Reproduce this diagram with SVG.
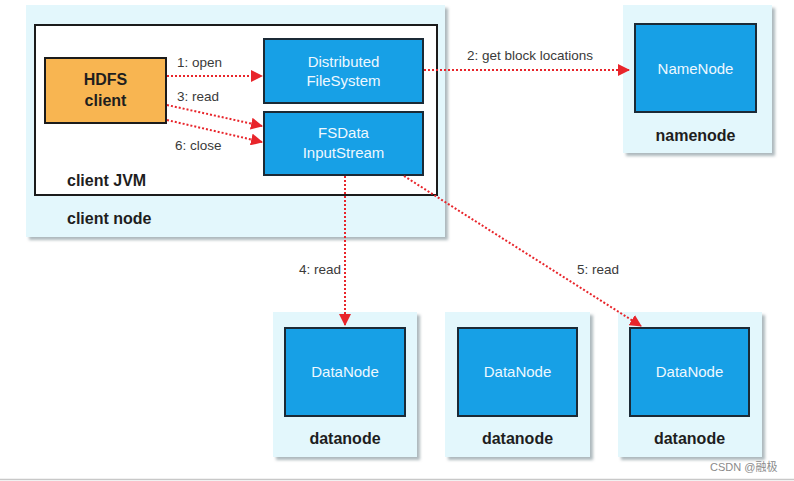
<svg xmlns="http://www.w3.org/2000/svg" width="794" height="481" viewBox="0 0 794 481">
<defs>
<marker id="ah" markerWidth="12" markerHeight="12" refX="11" refY="6" orient="auto" markerUnits="userSpaceOnUse">
<path d="M0,0 L12,6 L0,12 Z" fill="#e8252b"/>
</marker>
<filter id="sh" x="-5%" y="-5%" width="115%" height="115%">
<feDropShadow dx="3" dy="3" stdDeviation="1.5" flood-color="#8a9aa0" flood-opacity="0.7"/>
</filter>
</defs>
<style>
.host{fill:#e3f7fc;filter:url(#sh);}
.blue{fill:#17a0e6;stroke:#1b2a36;stroke-width:2;}
.wt{font-family:"Liberation Sans",Arial,sans-serif;font-size:15px;fill:#eef8ff;text-anchor:middle;}
.bl{font-family:"Liberation Sans",Arial,sans-serif;font-size:16px;font-weight:bold;fill:#1e1e1e;}
.lab{font-family:"Liberation Sans",Arial,sans-serif;font-size:13.5px;fill:#3a3a3a;}
.conn{stroke:#e8252b;stroke-width:2;stroke-dasharray:2,2;fill:none;marker-end:url(#ah);}
</style>
<rect width="794" height="481" fill="#ffffff"/>
<line x1="0" y1="479.5" x2="794" y2="479.5" stroke="#c8c8c8" stroke-width="1.5"/>

<g id="client-node">
<rect class="host" x="26" y="5" width="419" height="232"/>
<rect x="35" y="25" width="402" height="170" fill="#ffffff" stroke="#1b1b1b" stroke-width="2"/>
<text class="bl" x="67" y="186" font-size="15">client JVM</text>
<text class="bl" x="67" y="224" font-size="15">client node</text>
</g>
<g id="hdfs-client">
<rect x="45" y="58" width="121" height="65" fill="#f8b551" stroke="#1b1b1b" stroke-width="2"/>
<text class="bl" x="105.5" y="85" text-anchor="middle" font-size="15">HDFS</text>
<text class="bl" x="105.5" y="106" text-anchor="middle" font-size="15">client</text>
</g>
<g id="dfs">
<rect class="blue" x="264" y="39" width="159" height="64"/>
<text class="wt" x="343.5" y="67">Distributed</text>
<text class="wt" x="343.5" y="86">FileSystem</text>
</g>
<g id="fsdis">
<rect class="blue" x="264" y="112" width="159" height="63"/>
<text class="wt" x="343.5" y="138">FSData</text>
<text class="wt" x="343.5" y="158">InputStream</text>
</g>
<g id="namenode">
<rect class="host" x="623" y="5" width="149" height="148"/>
<rect class="blue" x="635" y="24" width="121" height="88"/>
<text class="wt" x="695.5" y="74">NameNode</text>
<text class="bl" x="695.5" y="141" text-anchor="middle">namenode</text>
</g>
<g id="datanode1">
<rect class="host" x="273" y="312" width="144" height="145"/>
<rect class="blue" x="285" y="328" width="120" height="88"/>
<text class="wt" x="345" y="377">DataNode</text>
<text class="bl" x="345" y="444" text-anchor="middle">datanode</text>
</g>
<g id="datanode2">
<rect class="host" x="445" y="312" width="145" height="145"/>
<rect class="blue" x="458" y="328" width="119" height="88"/>
<text class="wt" x="517.5" y="377">DataNode</text>
<text class="bl" x="517.5" y="444" text-anchor="middle">datanode</text>
</g>
<g id="datanode3">
<rect class="host" x="618" y="312" width="144" height="145"/>
<rect class="blue" x="630" y="328" width="119" height="88"/>
<text class="wt" x="689.5" y="377">DataNode</text>
<text class="bl" x="689.5" y="444" text-anchor="middle">datanode</text>
</g>

<g id="connectors">
<line class="conn" x1="167" y1="76" x2="262" y2="76"/>
<line class="conn" x1="167" y1="105" x2="262" y2="126"/>
<line class="conn" x1="167" y1="120" x2="262" y2="142"/>
<line class="conn" x1="424" y1="70" x2="629" y2="70"/>
<line class="conn" x1="345" y1="176" x2="345" y2="325"/>
<line class="conn" x1="404" y1="176" x2="641" y2="326"/>
<text class="lab" x="177" y="67">1: open</text>
<text class="lab" x="177" y="101">3: read</text>
<text class="lab" x="175" y="150">6: close</text>
<text class="lab" x="467" y="60">2: get block locations</text>
<text class="lab" x="299" y="274">4: read</text>
<text class="lab" x="577" y="274">5: read</text>
</g>
<text x="710" y="471" font-family="Liberation Sans,'Noto Sans CJK SC',sans-serif" font-size="11" fill="#8a8a8a">CSDN @融极</text>
</svg>
